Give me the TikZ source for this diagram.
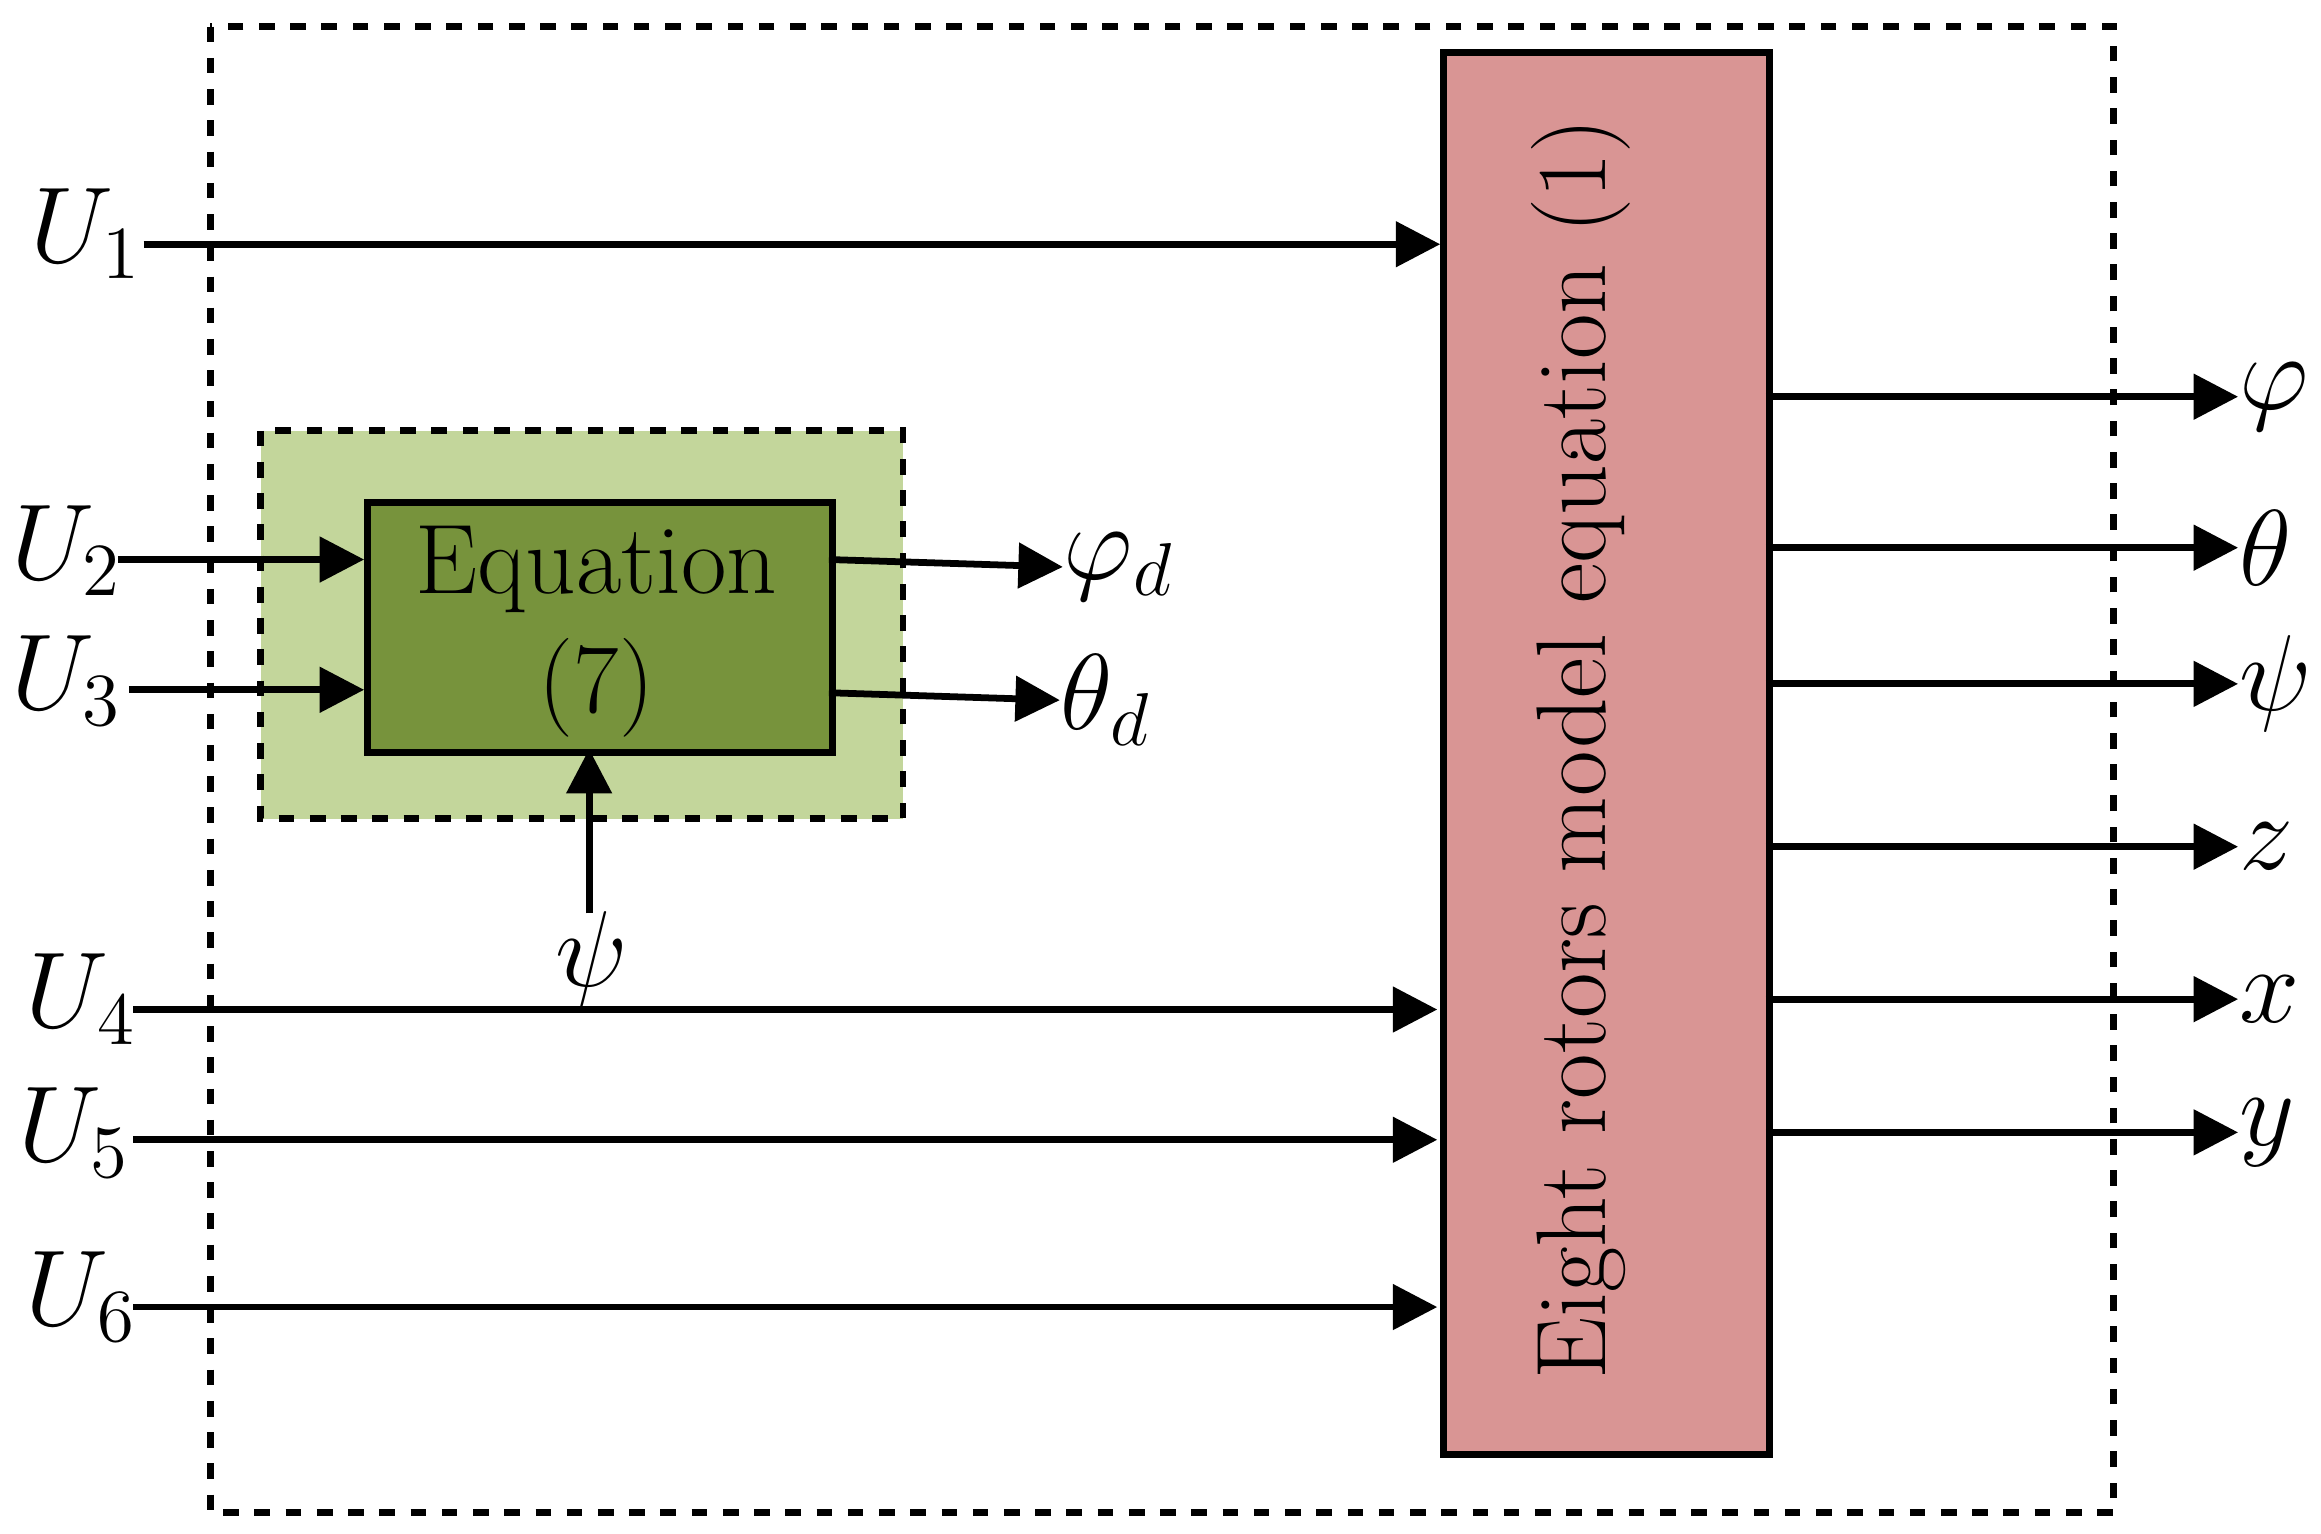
\documentclass[tikz,border=0pt]{standalone}
\usetikzlibrary{arrows.meta}
\definecolor{pinkb}{HTML}{D99594}
\definecolor{lgreen}{HTML}{C3D69B}
\definecolor{dgreen}{HTML}{77933C}
\begin{document}
\begin{tikzpicture}[x=0.01cm,y=-0.01cm,
  ln/.style={line width=1.3pt},
  arr/.style={ln,-{Triangle[length=0.3cm,width=0.3cm]}},
  lab/.style={font=\fontsize{20}{24}\selectfont, inner sep=0pt},
  txt/.style={font=\fontsize{19}{23}\selectfont}]
\useasboundingbox (0,0) rectangle (1568,1036);
\draw[ln,dashed] (142,18) rectangle (1428,1022);
\node[draw,ln,fill=pinkb,minimum width=2.2cm,minimum height=9.47cm,anchor=north west,inner sep=0pt] (M) at (973,33) {};
\node[txt,rotate=90] at (1068,506) {Eight rotors model equation (1)};
\draw[ln,dashed,fill=lgreen] (176,291) rectangle (610,553);
\node[draw,ln,fill=dgreen,minimum width=3.14cm,minimum height=1.69cm,anchor=north west,inner sep=0pt] (E) at (246,337) {};
\node[txt] at (403,385) {Equation};
\node[txt] at (403,465) {(7)};
% inputs
\node[lab] (u1) at (58,158) {$U_1$};
\node[lab] (u2) at (45,372) {$U_2$};
\node[lab] (u3) at (45,460) {$U_3$};
\node[lab] (u4) at (55,675) {$U_4$};
\node[lab] (u5) at (50,765) {$U_5$};
\node[lab] (u6) at (55,876) {$U_6$};
\coordinate (a1) at (97,165); \coordinate (b1) at (973,165);
\draw[arr] (a1) -- (b1);
\coordinate (a2) at (80,378); \coordinate (b2) at (246,378);
\draw[arr] (a2) -- (b2);
\coordinate (a3) at (87,466); \coordinate (b3) at (246,466);
\draw[arr] (a3) -- (b3);
\coordinate (a4) at (90,682); \coordinate (b4) at (971,682);
\draw[arr] (a4) -- (b4);
\coordinate (a5) at (90,770); \coordinate (b5) at (971,770);
\draw[arr] (a5) -- (b5);
\coordinate (a6) at (90,883); \coordinate (b6) at (971,883);
\draw[arr] (a6) -- (b6);
% equation outputs
\node[lab,anchor=west] (pd) at (718,383) {$\varphi_d$};
\node[lab,anchor=west] (td) at (716,473) {$\theta_d$};
\coordinate (c1) at (560,378); \coordinate (c2) at (560,468);
\draw[arr] (c1) -- (pd.west);
\draw[arr] (c2) -- (td.west);
\node[lab] (psi) at (400,648) {$\psi$};
\coordinate (ps0) at (398,617); \coordinate (ps1) at (398,506);
\draw[arr] (ps0) -- (ps1);
% outputs
\foreach \y/\t/\n in {268/\varphi/o1,370/\theta/o2,462/\psi/o3,572/z/o4,675/x/o5,765/y/o6}{
  \node[lab,anchor=west] (\n) at (1512,\y) {$\t$};
  \coordinate (s\n) at (1193,\y);
  \draw[arr] (s\n) -- (\n.west);
}
\end{tikzpicture}
\end{document}
